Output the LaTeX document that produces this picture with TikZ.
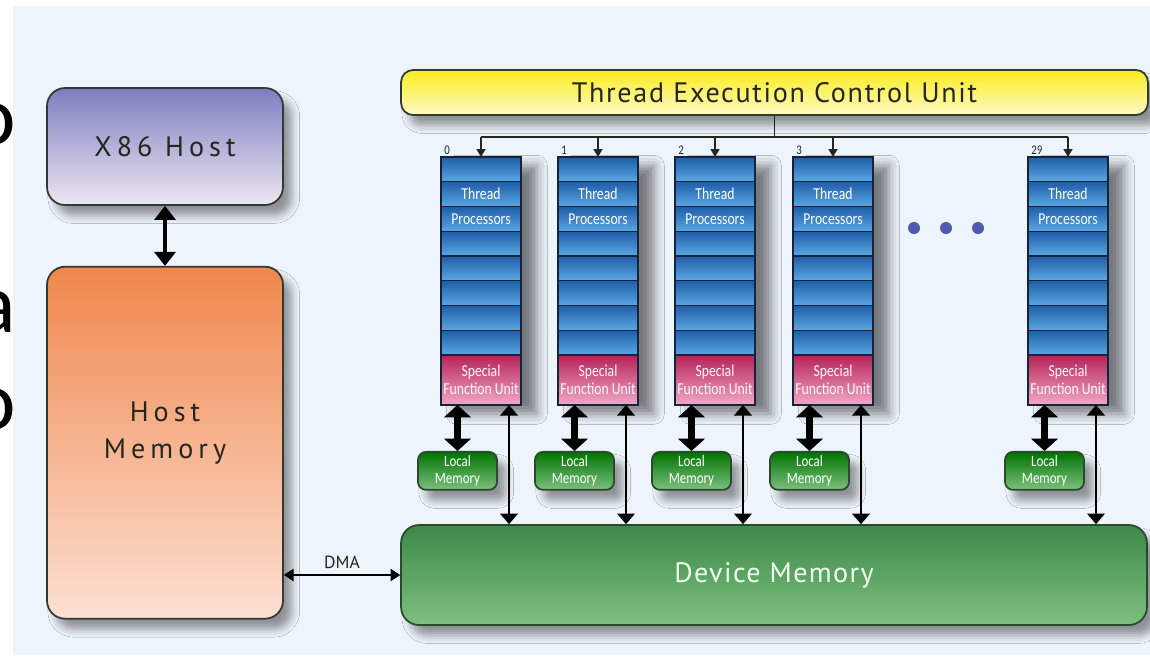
\documentclass[tikz,border=0pt]{standalone}
\usepackage{fontspec}
\setmainfont{PT Sans}
\newfontfamily\narrowfont[FakeStretch=0.82]{Carlito}
\newfontfamily\slidefont{Carlito}
\usepackage{tikz}
\usetikzlibrary{positioning,calc,arrows.meta,shadows.blur}

\definecolor{bgblue}{HTML}{EEF4FB}
\definecolor{boxline}{HTML}{2E3A32}
\definecolor{hosttop}{HTML}{7C7FC0}
\definecolor{hostbot}{HTML}{EEE6F2}
\definecolor{memtop}{HTML}{F0874C}
\definecolor{membot}{HTML}{FCE0D2}
\definecolor{ctrltop}{HTML}{FAEC1E}
\definecolor{ctrlbot}{HTML}{FFFAC4}
\definecolor{celltop}{HTML}{1F5DA8}
\definecolor{cellbot}{HTML}{5AA8E2}
\definecolor{cellline}{HTML}{15243A}
\definecolor{sfutop}{HTML}{B52358}
\definecolor{sfubot}{HTML}{F2A8C6}
\definecolor{greentop}{HTML}{3D8947}
\definecolor{greenbot}{HTML}{7DC080}
\definecolor{greenline}{HTML}{2A4A2C}
\definecolor{dotblue}{HTML}{5058B0}
\definecolor{darktext}{HTML}{26261E}

\tikzstyle{softshadow} = [blur shadow={shadow xshift=5pt, shadow yshift=-6pt, shadow blur radius=4.5pt, shadow opacity=40}]
\tikzstyle{bigbox} = [rectangle, rounded corners=0.36cm, draw=boxline, line width=1pt, align=center, text=darktext, softshadow]
\tikzstyle{hostbox} = [bigbox, minimum width=4.72cm, minimum height=2.34cm, top color=hosttop, bottom color=hostbot,
  font=\fontsize{16}{21}\selectfont\addfontfeatures{LetterSpace=18}]
\tikzstyle{membox} = [bigbox, minimum width=4.72cm, minimum height=7.04cm, top color=memtop, bottom color=membot, text depth=0.5cm,
  font=\fontsize{16}{21}\selectfont\addfontfeatures{LetterSpace=18}]
\tikzstyle{ctrlbox} = [bigbox, rounded corners=0.24cm, minimum width=14.94cm, minimum height=0.9cm, top color=ctrltop, bottom color=ctrlbot,
  font=\fontsize{16}{20}\selectfont\addfontfeatures{LetterSpace=6}]
\tikzstyle{devbox} = [bigbox, draw=greenline, minimum width=14.92cm, minimum height=2cm, top color=greentop, bottom color=greenbot,
  text=green!6, font=\fontsize{16}{20}\selectfont\addfontfeatures{LetterSpace=5}]
\tikzstyle{colframe} = [rectangle, minimum width=1.6cm, minimum height=4.96cm, fill=cellline, inner sep=0pt, outer sep=0pt,
  blur shadow={shadow xshift=9pt, shadow yshift=-5pt, shadow blur radius=6pt, shadow opacity=50}]
\tikzstyle{tcell} = [rectangle, minimum width=1.6cm, minimum height=0.495cm, inner sep=0pt, outer sep=0pt, draw=cellline, line width=0.8pt,
  top color=celltop, bottom color=cellbot, text=white, font=\narrowfont\fontsize{9.5}{10}\selectfont]
\tikzstyle{sfubox} = [rectangle, minimum width=1.6cm, minimum height=1cm, inner sep=0pt, outer sep=0pt, draw=cellline, line width=0.8pt,
  top color=sfutop, bottom color=sfubot, text=white!92!pink, align=center, font=\narrowfont\fontsize{9.5}{10}\selectfont]
\tikzstyle{localbox} = [rectangle, rounded corners=0.16cm, minimum width=1.58cm, minimum height=0.76cm, inner sep=0pt, draw=greenline, line width=1pt,
  top color=green!45!black, bottom color=greenbot, text=white, align=center, font=\narrowfont\fontsize{9}{9.5}\selectfont, softshadow]
\tikzstyle{colnum} = [inner sep=0pt, text=darktext, font=\narrowfont\fontsize{7.5}{8}\selectfont]
\tikzstyle{slideletter} = [inner sep=0pt, font=\slidefont\fontsize{48}{48}\selectfont]
\tikzstyle{busline} = [line width=1.1pt, draw=darktext]
\tikzstyle{busarrow} = [busline, -{Triangle[length=4.5pt,width=5pt]}]
\tikzstyle{dataarrow} = [line width=1.2pt, {Triangle[length=6pt,width=10pt]}-{Triangle[length=6pt,width=10pt]}]
\tikzstyle{fatarrow} = [line width=4.5pt, {Triangle[length=7pt,width=15pt]}-{Triangle[length=7pt,width=15pt]}]
\tikzstyle{hostarrow} = [line width=2.6pt, {Triangle[length=8pt,width=12pt]}-{Triangle[length=8pt,width=12pt]}]
\tikzstyle{dmaarrow} = [line width=0.8pt, {Triangle[length=5.5pt,width=7pt]}-{Triangle[length=5.5pt,width=7pt]}]

\begin{document}
\begin{tikzpicture}[x=0.02cm, y=-0.02cm]
        \useasboundingbox (0,0) rectangle (1150,657);
        \fill[white] (0,0) rectangle (1150,657);
        \fill[bgblue] (13,6) rectangle (1150,655);
        % letters of the slide text cut off at the left edge
        \node (fragA) [slideletter, anchor=east] at (16,124) {o};
        \node (fragB) [slideletter, anchor=east] at (16,312) {a};
        \node (fragC) [slideletter, anchor=east] at (16,409) {o};
        %
        \node (host) [hostbox] at (165,146.5) {X86 Host};
        \node (hostmem) [membox, below=1.2cm of host] {Host\\Memory};
        \node (tecu) [ctrlbox] at (774.5,92.5) {Thread Execution Control Unit};
        \node (devmem) [devbox] at (774,575) {Device Memory};
        %
        \draw [hostarrow] (host) -- (hostmem);
        \draw [dmaarrow] (hostmem.east |- devmem.west) -- node[above, font=\fontsize{10}{12}\selectfont, text=darktext] {DMA} (devmem.west);
        %
        \coordinate (busl) at (481,137);
        \coordinate (busr) at (1068,137);
        \draw [busline] (tecu.south) -- (tecu.south |- busl);
        \draw [busline] (busl) -- (busr);
        %
        \foreach \cid/\cx in {0/441,1/558,2/675,3/793,29/1028}{
          \node (col\cid) [colframe, anchor=north west] at (\cx,157) {};
          \foreach \k/\txt in {1/{},2/Thread,3/Processors,4/{},5/{},6/{},7/{},8/{}}
            \node (c\cid-\k) [tcell, anchor=north west] at (\cx,{157+(\k-1)*24.75}) {\txt};
          \node (sfu\cid) [sfubox, below=0pt of c\cid-8] {Special\\Function Unit};
          \node (lm\cid) [localbox, below=0.92cm of sfu\cid.south west, xshift=0.33cm] {Local\\Memory};
          \node (num\cid) [colnum, anchor=south west] at ($(c\cid-1.north west)+(3,-2)$) {\cid};
          \coordinate (tap\cid) at ($(sfu\cid.south west)+(68,0)$);
          \draw [busarrow] (c\cid-1.north |- busl) -- (c\cid-1.north);
          \draw [fatarrow] (sfu\cid.south -| lm\cid.north) -- (lm\cid.north);
          \draw [dataarrow] (tap\cid) -- (tap\cid |- devmem.north);
        }
        %
        \foreach \dx in {914,946,978}
          \fill[dotblue] (\dx,228) circle (0.12cm);
\end{tikzpicture}
\end{document}
